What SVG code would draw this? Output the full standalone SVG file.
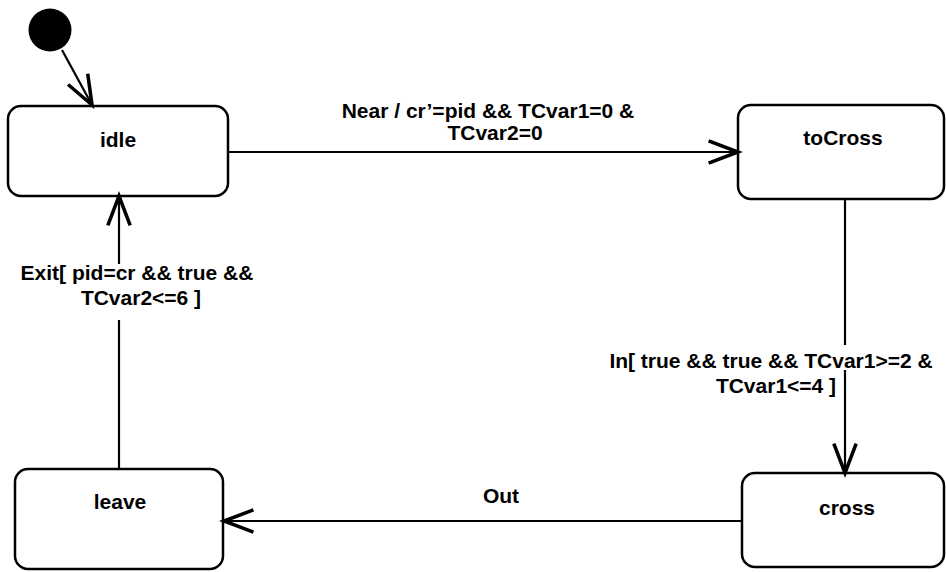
<svg xmlns="http://www.w3.org/2000/svg" width="946" height="572" viewBox="0 0 946 572">
  <style>
    .state rect { fill: #ffffff; stroke: #000000; stroke-width: 2.5; }
    .name { font-family: "Liberation Sans", Arial, sans-serif; font-size: 21px; font-weight: bold; fill: #000000; text-anchor: middle; }
    .label { font-family: "Liberation Sans", Arial, sans-serif; font-size: 21px; font-weight: bold; fill: #000000; text-anchor: middle; }
    .edge { fill: none; stroke: #000000; stroke-width: 2.2; }
  </style>
  <defs>
    <marker id="open-arrow" markerUnits="userSpaceOnUse" markerWidth="40" markerHeight="40" viewBox="-30 -15 34 30" refX="0" refY="0" orient="auto">
      <path d="M -25,-9.5 L 0,0 L -25,9.5" fill="none" stroke="#000000" stroke-width="3" stroke-linejoin="miter"/>
    </marker>
  </defs>

  <!-- initial pseudo-state -->
  <g id="initial">
    <circle cx="50" cy="30" r="21.5" fill="#000000"/>
  </g>

  <!-- states -->
  <g id="idle" class="state">
    <rect x="8" y="106" width="220" height="90" rx="13" ry="13"/>
    <text class="name" x="118" y="147">idle</text>
  </g>
  <g id="toCross" class="state">
    <rect x="738" y="105" width="206" height="94" rx="13" ry="13"/>
    <text class="name" x="843" y="145">toCross</text>
  </g>
  <g id="cross" class="state">
    <rect x="742" y="473" width="202" height="94" rx="13" ry="13"/>
    <text class="name" x="847" y="515">cross</text>
  </g>
  <g id="leave" class="state">
    <rect x="15" y="469" width="208" height="100" rx="13" ry="13"/>
    <text class="name" x="120" y="509">leave</text>
  </g>

  <!-- transitions -->
  <g id="connectors">
    <path class="edge" d="M 62,50 L 92,105" marker-end="url(#open-arrow)"/>
    <path class="edge" d="M 228,152 L 738,152" marker-end="url(#open-arrow)"/>
    <path class="edge" d="M 845,199 L 845,345"/>
    <path class="edge" d="M 845,370 L 845,473" marker-end="url(#open-arrow)"/>
    <path class="edge" d="M 742,521 L 224,521" marker-end="url(#open-arrow)"/>
    <path class="edge" d="M 119,469 L 119,320"/>
    <path class="edge" d="M 119,264 L 119,196" marker-end="url(#open-arrow)"/>

    <text class="label" x="488" y="118">Near / cr’=pid &amp;&amp; TCvar1=0 &amp;</text>
    <text class="label" x="495" y="140">TCvar2=0</text>

    <text class="label" x="771" y="368">In[ true &amp;&amp; true &amp;&amp; TCvar1&gt;=2 &amp;</text>
    <text class="label" x="776" y="393">TCvar1&lt;=4 ]</text>

    <text class="label" x="501" y="503">Out</text>

    <text class="label" x="137" y="280">Exit[ pid=cr &amp;&amp; true &amp;&amp;</text>
    <text class="label" x="141" y="305">TCvar2&lt;=6 ]</text>
  </g>
</svg>
